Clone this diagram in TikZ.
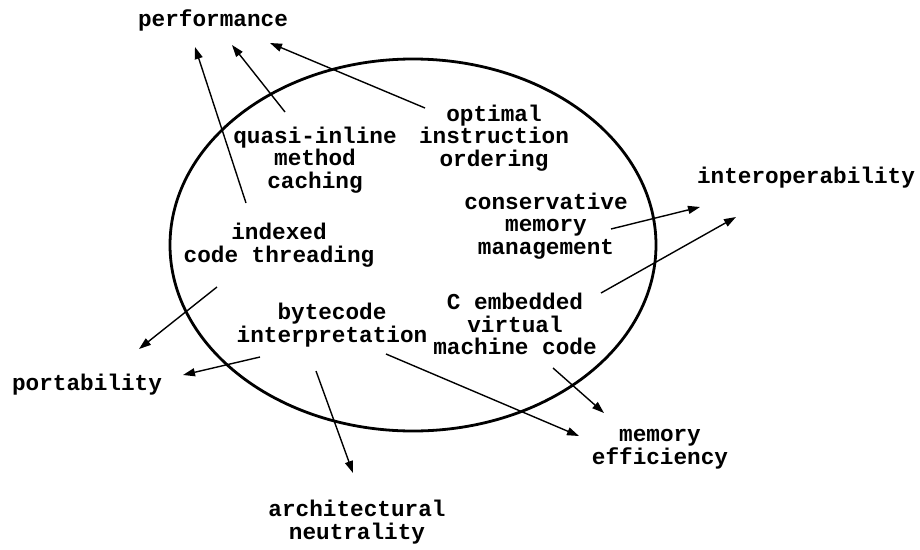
\documentclass[tikz,border=0pt]{standalone}
\usepackage{fontspec}
\setmonofont{Liberation Mono}
\usetikzlibrary{arrows.meta}
\tikzset{
  lbl/.style={font=\ttfamily\bfseries\fontsize{22.7}{22.5}\selectfont, align=center, inner sep=0pt},
  arr/.style={line width=1.4pt, -{Triangle[length=12pt,width=8pt]}},
  ring/.style={line width=2.8pt}
}
\begin{document}
\begin{tikzpicture}[x=1pt,y=-1pt]
  \fill[white] (0,0) rectangle (920,549);
  \useasboundingbox (0,0) rectangle (920,549);

  % the implementation techniques sit inside the oval
  \draw[ring] (413,245) ellipse [x radius=243pt, y radius=186pt];

  \node[lbl] (perf)   at (213,20)  {performance};
  \node[lbl] (quasi)  at (315,160) {quasi-inline\\method\\caching};
  \node[lbl] (opt)    at (494,138) {optimal\\instruction\\ordering};
  \node[lbl] (idx)    at (279,245) {indexed\\code threading};
  \node[lbl] (cons)   at (546,226) {conservative\\memory\\management};
  \node[lbl] (inter)  at (806,178) {interoperability};
  \node[lbl] (cemb)   at (515,324) {C embedded\\virtual\\machine code};
  \node[lbl] (byte)   at (332,325) {bytecode\\interpretation};
  \node[lbl] (port)   at (87,385)  {portability};
  \node[lbl] (memeff) at (660,449) {memory\\efficiency};
  \node[lbl] (arch)   at (357,522) {architectural\\neutrality};

  % technique -> property
  \draw[arr] ([shift={(-33,-42)}]idx.center)   -- ([shift={(-18,27)}]perf.center);
  \draw[arr] ([shift={(-30,-48)}]quasi.center) -- ([shift={(19,25)}]perf.center);
  \draw[arr] ([shift={(-69,-30)}]opt.center)   -- ([shift={(57,23)}]perf.center);
  \draw[arr] ([shift={(65,3)}]cons.center)     -- ([shift={(-106,29)}]inter.center);
  \draw[arr] ([shift={(86,-31)}]cemb.center)   -- ([shift={(-70,39)}]inter.center);
  \draw[arr] ([shift={(-62,42)}]idx.center)    -- ([shift={(52,-36)}]port.center);
  \draw[arr] ([shift={(-72,32)}]byte.center)   -- ([shift={(96,-10)}]port.center);
  \draw[arr] ([shift={(-16,46)}]byte.center)   -- ([shift={(-4,-49)}]arch.center);
  \draw[arr] ([shift={(54,29)}]byte.center)    -- ([shift={(-81,-13)}]memeff.center);
  \draw[arr] ([shift={(38,44)}]cemb.center)    -- ([shift={(-56,-36)}]memeff.center);
\end{tikzpicture}
\end{document}
